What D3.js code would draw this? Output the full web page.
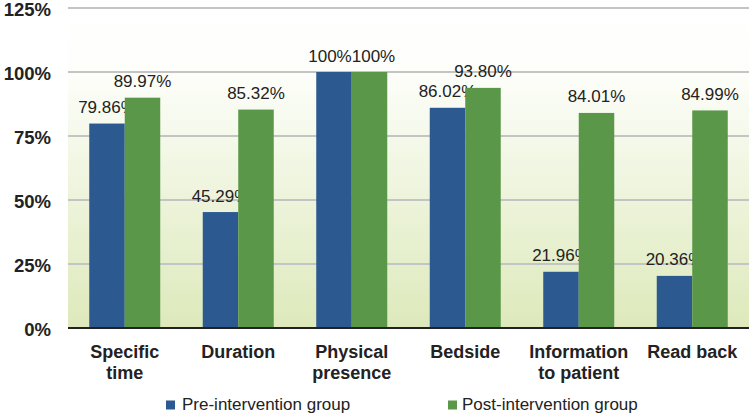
<!DOCTYPE html>
<html><head><meta charset="utf-8">
<script src="https://cdn.jsdelivr.net/npm/d3@7"></script>
<style>body{margin:0;background:#fff}svg{display:block}</style>
</head><body>
<script>
const categories = [["Specific","time"],["Duration"],["Physical","presence"],["Bedside"],["Information","to patient"],["Read back"]];
const preValues = [79.86, 45.29, 100, 86.02, 21.96, 20.36];
const postValues = [89.97, 85.32, 100, 93.80, 84.01, 84.99];
const preLabels = ["79.86%","45.29%","100%","86.02%","21.96%","20.36%"];
const postLabels = ["89.97%","85.32%","100%","93.80%","84.01%","84.99%"];
const yTicks = [0,25,50,75,100,125];
const seriesNames = ["Pre-intervention group","Post-intervention group"];
const colors = ["#2b5990","#5b9748"];

(function(){
const W=749,H=416;
const svg=d3.select("body").append("svg").attr("width",W).attr("height",H);
const pl=68,pr=749,pt=8,pb=328;
const x=d3.scaleBand().domain(d3.range(categories.length)).range([pl,pr]);
const y=d3.scaleLinear().domain([0,125]).range([pb,pt]);
const bw=35.5;
const font="Liberation Sans, Arial, sans-serif";

const defs=svg.append("defs");
const g=defs.append("linearGradient").attr("id","bg").attr("x1",0).attr("x2",0).attr("y1",0).attr("y2",1);
g.append("stop").attr("offset","0%").attr("stop-color","#ffffff");
g.append("stop").attr("offset","20%").attr("stop-color","#fdfefa");
g.append("stop").attr("offset","100%").attr("stop-color","#dde9bb");
svg.append("rect").attr("x",pl).attr("y",pt).attr("width",pr-pl).attr("height",pb-pt).attr("fill","url(#bg)");

svg.append("g").selectAll("line").data(yTicks.filter(d=>d>0)).join("line")
 .attr("x1",pl).attr("x2",pr).attr("y1",d=>y(d)).attr("y2",d=>y(d))
 .attr("stroke","#c4c4c4").attr("stroke-width",2);

svg.append("g").selectAll("text").data(yTicks).join("text")
 .attr("x",51).attr("y",d=>y(d)+7.5).attr("text-anchor","end")
 .attr("font-family",font).attr("font-weight","bold").attr("font-size",18.5).attr("fill","#222")
 .text(d=>d+"%");

const series=[preValues,postValues];
const labs=[preLabels,postLabels];
series.forEach((vals,si)=>{
  const other=series[1-si];
  svg.append("g").selectAll("rect").data(vals).join("rect")
   .attr("x",(d,i)=>x.bandwidth()/2+x(i)-bw+si*bw).attr("width",bw)
   .attr("y",d=>y(d)).attr("height",d=>pb-y(d)).attr("fill",colors[si]);
  svg.append("g").selectAll("text").data(vals).join("text")
   .attr("x",(d,i)=>x(i)+x.bandwidth()/2-bw/2+si*bw + (Math.abs(d-other[i])<0.5?(si===0?-4:4):0))
   .attr("y",d=>y(d)-10.5).attr("text-anchor","middle")
   .attr("font-family",font).attr("font-size",17).attr("fill","#222")
   .text((d,i)=>labs[si][i]);
});

svg.append("line").attr("x1",pl).attr("x2",pr).attr("y1",pb).attr("y2",pb).attr("stroke","#222").attr("stroke-width",2);

const cl=svg.append("g").selectAll("text").data(categories).join("text")
 .attr("text-anchor","middle").attr("font-family",font).attr("font-weight","bold").attr("font-size",18).attr("fill","#222");
cl.each(function(d,i){
  d3.select(this).selectAll("tspan").data(d).join("tspan")
   .attr("x",x(i)+x.bandwidth()/2).attr("y",(t,j)=>358+j*21).text(t=>t);
});

const leg=[{x:166,tx:182,t:seriesNames[0],c:colors[0]},{x:448,tx:462,t:seriesNames[1],c:colors[1]}];
leg.forEach(l=>{
  svg.append("rect").attr("x",l.x).attr("y",400.5).attr("width",9).attr("height",9).attr("fill",l.c);
  svg.append("text").attr("x",l.tx).attr("y",410).attr("font-family",font).attr("font-size",17).attr("fill","#222").text(l.t);
});
})();
</script>
</body></html>
